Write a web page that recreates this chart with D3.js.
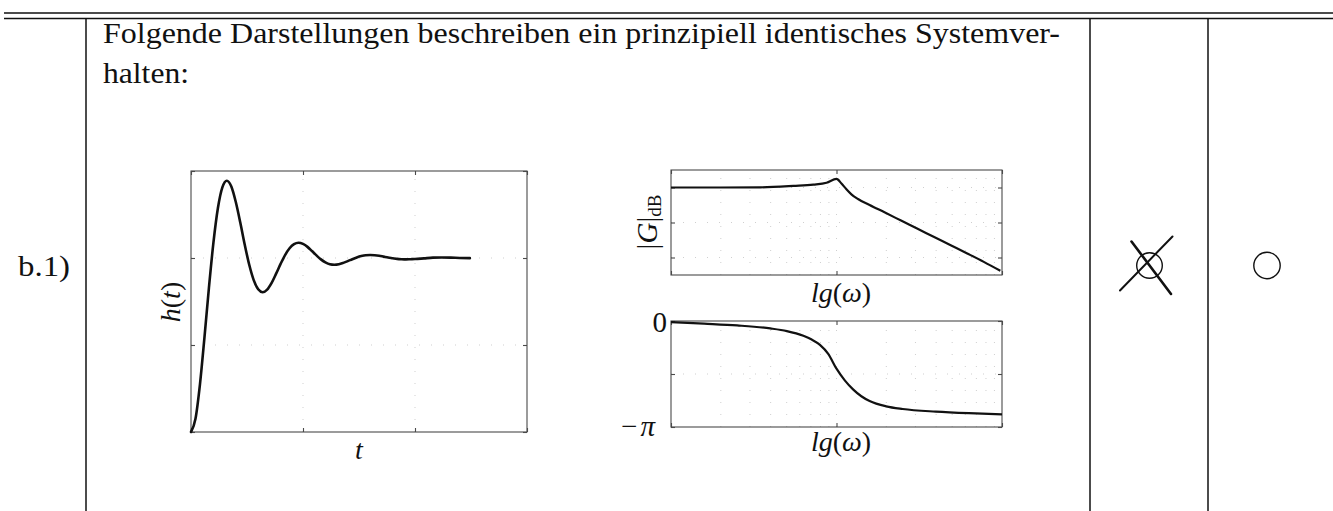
<!DOCTYPE html>
<html>
<head>
<meta charset="utf-8">
<script src="https://cdn.jsdelivr.net/npm/d3@7"></script>
<style>
  html, body { margin: 0; padding: 0; background: #fff; }
  svg { display: block; }
  text { font-family: "Liberation Serif", "DejaVu Serif", serif; fill: #111; }
</style>
</head>
<body>
<svg id="sheet" width="1333" height="511"></svg>
<script>
// ---- step response h(t) ----
const stepT = [0, 0.04, 0.08, 0.12, 0.16, 0.20, 0.24, 0.28, 0.32, 0.36, 0.40, 0.44, 0.48, 0.52,
  0.56, 0.60, 0.64, 0.68, 0.72, 0.76, 0.80, 0.84, 0.88, 0.92, 0.96, 1.00, 1.04, 1.08, 1.12,
  1.16, 1.20, 1.24, 1.28, 1.32, 1.36, 1.40, 1.44, 1.48, 1.52, 1.56, 1.60, 1.64, 1.68, 1.72,
  1.76, 1.80, 1.84, 1.88, 1.92, 1.96, 2.00, 2.08, 2.16, 2.24, 2.32, 2.40, 2.49];
const stepH = [0, 0.076, 0.274, 0.542, 0.828, 1.087, 1.286, 1.406, 1.444, 1.411, 1.322, 1.204,
  1.076, 0.961, 0.873, 0.820, 0.803, 0.818, 0.857, 0.910, 0.966, 1.017, 1.056, 1.080, 1.088,
  1.081, 1.064, 1.040, 1.015, 0.992, 0.975, 0.964, 0.961, 0.964, 0.972, 0.982, 0.993, 1.003,
  1.011, 1.016, 1.017, 1.016, 1.013, 1.008, 1.003, 0.999, 0.995, 0.993, 0.992, 0.993, 0.994,
  0.998, 1.002, 1.003, 1.002, 1.000, 0.999];
const stepTicksX = [0, 1, 2, 3];
const stepTicksY = [0, 0.5, 1, 1.5];

// ---- Bode magnitude |G|dB over lg(ω) ----
const magLgW = [-1, -0.7, -0.46, -0.26, -0.14, -0.06, 0.0, 0.03, 0.06, 0.09, 0.13, 0.2,
  0.29, 0.39, 0.49, 0.59, 0.69, 0.79, 0.89, 0.99];
const magDb = [0, 0, 0.1, 0.9, 1.6, 2.7, 4.9, 2.3, -1.0, -3.9, -6.6, -10.0, -14.2, -18.9,
  -23.6, -28.3, -33.0, -37.7, -42.5, -47.6];
const magTicksY = [0, -20, -40];

// ---- Bode phase (in multiples of π) over lg(ω) ----
const phaseLgW = [-1, -0.8, -0.6, -0.4, -0.3, -0.2, -0.15, -0.1, -0.05, 0, 0.05, 0.1, 0.15,
  0.2, 0.3, 0.4, 0.6, 0.8, 1.0];
const phasePi = [-0.01, -0.025, -0.042, -0.07, -0.095, -0.14, -0.175, -0.225, -0.31, -0.45,
  -0.56, -0.645, -0.71, -0.755, -0.805, -0.83, -0.855, -0.87, -0.88];
const phaseTicksY = [0, -0.5, -1];
const phaseTickLabels = ["0", "", "\u2212\u03c0"];

const lgTicks = [-1, 0, 1];

// ---- paragraph text ----
const introLines = [
  "Folgende Darstellungen beschreiben ein prinzipiell identisches Systemver-",
  "halten:"
];
const itemLabel = "b.1)";

const svg = d3.select("#sheet");
const ink = "#111";
const frameInk = "#4a4a4a";
const gridInk = "#cfcfcf";

// ---------- table rules ----------
const rules = svg.append("g").attr("stroke", ink).attr("fill", "none");
rules.append("line").attr("x1", 4).attr("x2", 1333).attr("y1", 13).attr("y2", 13).attr("stroke-width", 1.6);
rules.append("line").attr("x1", 4).attr("x2", 1333).attr("y1", 18.5).attr("y2", 18.5).attr("stroke-width", 1.4);
[86, 1090, 1208].forEach(x => {
  rules.append("line").attr("x1", x).attr("x2", x).attr("y1", 18.5).attr("y2", 511).attr("stroke-width", 1.5);
});

// ---------- paragraph ----------
svg.append("text").attr("x", 103).attr("y", 43).attr("font-size", 29.5)
  .attr("textLength", 957).attr("lengthAdjust", "spacingAndGlyphs").text(introLines[0]);
svg.append("text").attr("x", 103).attr("y", 83).attr("font-size", 29.5)
  .attr("textLength", 86).attr("lengthAdjust", "spacingAndGlyphs").text(introLines[1]);
svg.append("text").attr("x", 18).attr("y", 276).attr("font-size", 29.5)
  .attr("textLength", 52).attr("lengthAdjust", "spacingAndGlyphs").text(itemLabel);

// ---------- helpers ----------
function frame(g, x, y) {
  const [x0, x1] = x.range(), [y0, y1] = y.range();
  g.append("rect")
    .attr("x", x0).attr("y", y1).attr("width", x1 - x0).attr("height", y0 - y1)
    .attr("fill", "none").attr("stroke", frameInk).attr("stroke-width", 1.1);
}
function grid(g, x, y, xs, ys) {
  const [x0, x1] = x.range(), [y0, y1] = y.range();
  const gg = g.append("g").attr("stroke", gridInk).attr("stroke-width", 1)
    .attr("stroke-dasharray", "1,11");
  xs.forEach(v => gg.append("line").attr("x1", x(v)).attr("x2", x(v)).attr("y1", y0).attr("y2", y1));
  ys.forEach(v => gg.append("line").attr("x1", x0).attr("x2", x1).attr("y1", y(v)).attr("y2", y(v)));
}
function ticks(g, x, y, xs, ys) {
  const [x0, x1] = x.range(), [y0, y1] = y.range();
  const L = 4;
  // inward ticks on all four sides
  g.append("g").attr("transform", `translate(0,${y0})`)
    .call(d3.axisBottom(x).tickValues(xs).tickSize(-L).tickFormat(""))
    .call(a => a.select(".domain").remove());
  g.append("g").attr("transform", `translate(0,${y1})`)
    .call(d3.axisTop(x).tickValues(xs).tickSize(-L).tickFormat(""))
    .call(a => a.select(".domain").remove());
  g.append("g").attr("transform", `translate(${x0},0)`)
    .call(d3.axisLeft(y).tickValues(ys).tickSize(-L).tickFormat(""))
    .call(a => a.select(".domain").remove());
  g.append("g").attr("transform", `translate(${x1},0)`)
    .call(d3.axisRight(y).tickValues(ys).tickSize(-L).tickFormat(""))
    .call(a => a.select(".domain").remove());
  g.selectAll(".tick line").attr("stroke", frameInk).attr("stroke-width", 1.1);
}
function mathLabel(g, parts, x, y, size, rotate) {
  const t = g.append("text").attr("font-size", size).attr("text-anchor", "middle")
    .attr("transform", `translate(${x},${y})` + (rotate ? " rotate(-90)" : ""));
  parts.forEach(p => {
    const s = t.append("tspan").text(p.s);
    if (p.i) s.attr("font-style", "italic");
    if (p.fs) s.attr("font-size", p.fs);
    if (p.dy) s.attr("dy", p.dy);
  });
  return t;
}
const lgOmegaLabel = [{ s: "l", i: 1 }, { s: "g", i: 1 }, { s: "(" }, { s: "\u03c9", i: 1 }, { s: ")" }];

// ---------- step response ----------
const sx = d3.scaleLinear().domain([0, 3]).range([191, 527]);
const sy = d3.scaleLinear().domain([0, 1.5]).range([432, 171]);
const gs = svg.append("g");
grid(gs, sx, sy, stepTicksX.slice(1, -1), stepTicksY.slice(1, -1));
frame(gs, sx, sy);
ticks(gs, sx, sy, stepTicksX, stepTicksY);
gs.append("path")
  .datum(stepT.map((t, i) => [t, stepH[i]]))
  .attr("fill", "none").attr("stroke", ink).attr("stroke-width", 2.6)
  .attr("stroke-linejoin", "round").attr("stroke-linecap", "round")
  .attr("d", d3.line().x(d => sx(d[0])).y(d => sy(d[1])).curve(d3.curveMonotoneX));
mathLabel(gs, [{ s: "h", i: 1 }, { s: "(" }, { s: "t", i: 1 }, { s: ")" }], 180, 302, 28, true);
mathLabel(gs, [{ s: "t", i: 1 }], 359, 459, 28, false);

// ---------- Bode magnitude ----------
const minorLg = d3.scaleLog().domain([0.1, 10]).ticks().map(v => Math.log10(v));
const mx = d3.scaleLinear().domain([-1, 1]).range([671, 1002]);
const my = d3.scaleLinear().domain([-50, 10]).range([275, 170]);
const gm = svg.append("g");
grid(gm, mx, my, minorLg.filter(v => v > -1 && v < 1), magTicksY);
frame(gm, mx, my);
ticks(gm, mx, my, lgTicks, magTicksY);
gm.append("path")
  .datum(magLgW.map((w, i) => [w, magDb[i]]))
  .attr("fill", "none").attr("stroke", ink).attr("stroke-width", 2.2)
  .attr("stroke-linejoin", "round")
  .attr("d", d3.line().x(d => mx(d[0])).y(d => my(d[1])).curve(d3.curveMonotoneX));
mathLabel(gm, [{ s: "|" }, { s: "G", i: 1 }, { s: "|" }, { s: "dB", fs: 19, dy: 4 }], 657, 222, 29, true);
mathLabel(gm, lgOmegaLabel, 841, 302, 28, false);

// ---------- Bode phase ----------
const px = d3.scaleLinear().domain([-1, 1]).range([671, 1002]);
const py = d3.scaleLinear().domain([-1, 0]).range([427, 321]);
const gp = svg.append("g");
grid(gp, px, py, minorLg.filter(v => v > -1 && v < 1), phaseTicksY.slice(1, -1));
frame(gp, px, py);
ticks(gp, px, py, lgTicks, phaseTicksY);
gp.append("path")
  .datum(phaseLgW.map((w, i) => [w, phasePi[i]]))
  .attr("fill", "none").attr("stroke", ink).attr("stroke-width", 2.2)
  .attr("stroke-linejoin", "round")
  .attr("d", d3.line().x(d => px(d[0])).y(d => py(d[1])).curve(d3.curveMonotoneX));
// y tick labels 0 and −π (π set in italic, as in math type)
gp.append("text").attr("font-size", 29).attr("text-anchor", "end")
  .attr("x", 667).attr("y", py(phaseTicksY[0]) + 11).text(phaseTickLabels[0]);
const piLabel = gp.append("text").attr("font-size", 29).attr("text-anchor", "end")
  .attr("x", 655).attr("y", py(phaseTicksY[2]) + 9);
piLabel.append("tspan").text(phaseTickLabels[2].charAt(0));
piLabel.append("tspan").attr("font-style", "italic").attr("dx", 3).text(phaseTickLabels[2].charAt(1));
mathLabel(gp, lgOmegaLabel, 841, 451, 28, false);

// ---------- answer boxes: crossed circle and empty circle ----------
const ga = svg.append("g").attr("fill", "none").attr("stroke", ink);
ga.append("circle").attr("cx", 1149.5).attr("cy", 265.5).attr("r", 12.8).attr("stroke-width", 1.4);
ga.append("line").attr("x1", 1131.5).attr("y1", 241.5).attr("x2", 1171).attr("y2", 294)
  .attr("stroke-width", 2.6).attr("stroke-linecap", "round");
ga.append("line").attr("x1", 1120).attr("y1", 290.5).attr("x2", 1172.5).attr("y2", 236.5)
  .attr("stroke-width", 2).attr("stroke-linecap", "round");
ga.append("circle").attr("cx", 1267).attr("cy", 265.5).attr("r", 13.2).attr("stroke-width", 1.4);
</script>
</body>
</html>
